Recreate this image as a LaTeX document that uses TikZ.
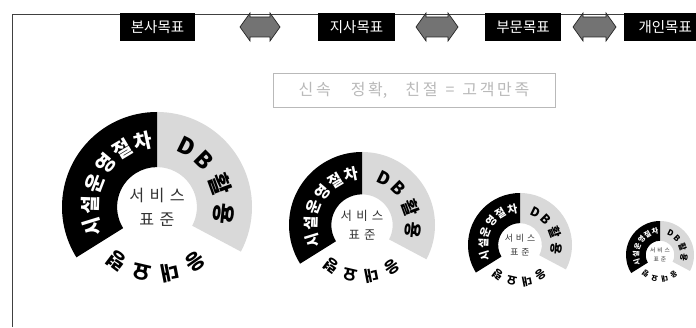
\documentclass[tikz,border=0pt]{standalone}
\usepackage{fontspec}
\newfontfamily\kr{Noto Sans CJK KR}
\usetikzlibrary{calc}
\tikzset{
  goal/.style={fill=black, text=white, font=\kr\fontsize{14.5pt}{14.5pt}\selectfont, minimum height=28pt, inner sep=0pt, anchor=center},
  ringglyph/.style={inner sep=0pt, anchor=center},
  dblarrowfill/.style={fill=black!55, draw=black!85, line width=0.7pt},
  framepen/.style={draw=black!75, line width=0.8pt},
}
\newcommand\dblarrow[3]{% name, x1, x2
  \coordinate (#1) at ({(#2+#3)/2},300);
  \path[dblarrowfill] (#2,300) -- (#2+10,314) -- (#2+10,310) -- (#3-10,310) -- (#3-10,314) -- (#3,300)
     -- (#3-10,286) -- (#3-10,290) -- (#2+10,290) -- (#2+10,286) -- cycle;
}
\newcommand\wheel[4]{% name, cx, cy, R
  \begin{scope}[shift={(#2,#3)}]
  \pgfmathsetmacro\Ro{#4}\pgfmathsetmacro\Ri{0.42*#4}\pgfmathsetmacro\Rm{0.705*#4}%
  \pgfmathsetmacro\Fs{0.21*#4}\pgfmathsetmacro\Fc{0.17*#4}\pgfmathsetmacro\Fb{0.24*#4}%
  \pgfmathsetmacro\Fl{0.17*1.5*#4}%
  \coordinate (#1) at (0,0);
  \fill[gray!30] (90:\Ro pt) arc[start angle=90,end angle=-28,radius=\Ro pt] -- (-28:\Ri pt) arc[start angle=-28,end angle=90,radius=\Ri pt] -- cycle;
  \fill[black] (90:\Ro pt) arc[start angle=90,end angle=212,radius=\Ro pt] -- (212:\Ri pt) arc[start angle=212,end angle=90,radius=\Ri pt] -- cycle;
  \foreach \g/\a [count=\i] in {시/197,설/178,운/159,영/140,절/121,차/102}
    \node[ringglyph, text=white, font=\kr\bfseries\fontsize{\Fs pt}{\Fs pt}\selectfont, rotate=\a-90] (#1-b\i) at (\a:\Rm pt) {\g};
  \foreach \g/\a [count=\i] in {D/64,B/45,활/20,용/-6}
    \node[ringglyph, text=black, font=\kr\bfseries\fontsize{\Fb pt}{\Fb pt}\selectfont, rotate=\a-90] (#1-d\i) at (\a:\Rm pt) {\g};
  \foreach \g/\a [count=\i] in {응/305,대/281,요/257,령/233}
    \node[ringglyph, text=black, font=\kr\bfseries\fontsize{\Fs pt}{\Fs pt}\selectfont, rotate=\a-90] (#1-e\i) at (\a:\Rm pt) {\g};
  \node[align=center, text=black!80, inner sep=0pt, font=\kr\fontsize{\Fc pt}{\Fl pt}\selectfont] (#1-c) at (0,0) {서\,\,비\,\,스\\표\,\,준};
  \end{scope}
}
\begin{document}
\begin{tikzpicture}[x=1pt,y=1pt]
\useasboundingbox (0,0) rectangle (696,327);
\clip (0,0) rectangle (696,327);
\fill[white] (0,0) rectangle (696,327);
% frame
\coordinate (fbl) at (12,0);
\coordinate (ftl) at (12,313);
\coordinate (ftr) at (696,313);
\draw[framepen] (fbl) -- (ftl) -- (ftr);
% goal labels
\node[goal, minimum width=75pt] (hq) at (157.5,300) {본사목표};
\node[goal, minimum width=77pt] (branch) at (356.5,300) {지사목표};
\node[goal, minimum width=76pt] (dept) at (523,300) {부문목표};
\node[goal, minimum width=80pt, anchor=west] (person) at (624,300) {\hspace*{2pt}개인목표\hfill};
\dblarrow{arr1}{240}{280}
\dblarrow{arr2}{416}{458}
\dblarrow{arr3}{573}{616}
% slogan box
\node[draw=gray!55, line width=0.6pt, minimum width=282pt, minimum height=34pt, inner sep=0pt,
      text=gray!55, font=\kr\fontsize{16pt}{16pt}\selectfont] (slogan) at (414,237)
      {신\,속\hspace{20pt}정\,확,\hspace{18pt}친\,절\hspace{8pt}=\hspace{8pt}고\,객\,만\,족};
% wheels
\wheel{w1}{157}{120}{95}
\wheel{w2}{362}{102}{73}
\wheel{w3}{520}{82}{52}
\wheel{w4}{660}{72}{34}
\end{tikzpicture}
\end{document}
